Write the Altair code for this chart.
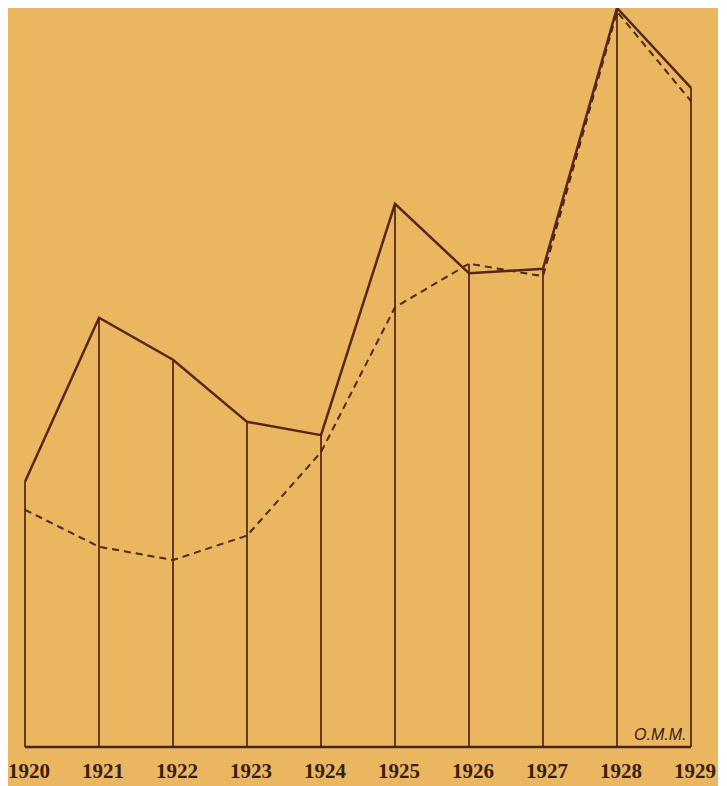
import altair as alt
import pandas as pd

years = [1920, 1921, 1922, 1923, 1924, 1925, 1926, 1927, 1928, 1929]
solid = [35.9, 58.1, 52.4, 44.0, 42.2, 73.5, 64.1, 64.7, 100.0, 89.2]
dashed = [32.1, 27.1, 25.3, 28.6, 39.9, 59.5, 65.4, 63.7, 99.5, 87.4]
signature = "O.M.M."

BG = "#EAB660"
INK = "#4e2412"

df = pd.DataFrame({"year": years, "solid": solid, "dashed": dashed})
df["top"] = df[["solid", "dashed"]].max(axis=1)
df["label"] = [str(y) for y in years]
df["zero"] = 0.0

xs = alt.X("year:Q", scale=alt.Scale(domain=[1920, 1929], nice=False, zero=False), axis=None)
ys = alt.Scale(domain=[0, 100], nice=False)

base = alt.Chart(df)

verticals = base.mark_rule(color=INK, strokeWidth=1.7).encode(
    x=xs, y=alt.Y("top:Q", scale=ys, axis=None), y2="zero:Q"
)

baseline = base.mark_line(color=INK, strokeWidth=2.4).encode(
    x=xs, y=alt.Y("zero:Q", scale=ys, axis=None)
)

solid_line = base.mark_line(color="#55261a", strokeWidth=2.5, strokeJoin="miter").encode(
    x=xs, y=alt.Y("solid:Q", scale=ys, axis=None)
)

dashed_line = base.mark_line(color=INK, strokeWidth=2.0, strokeDash=[7, 5]).encode(
    x=xs, y=alt.Y("dashed:Q", scale=ys, axis=None)
)

labels = base.mark_text(
    font="Liberation Serif", fontSize=21, fontWeight="bold", color="#3a1d10",
    baseline="middle", align="center", dy=25, dx=4
).encode(x=xs, y=alt.Y("zero:Q", scale=ys, axis=None), text="label:N")

sig_df = pd.DataFrame({"year": [1928.94], "v": [1.6], "t": [signature]})
sig = alt.Chart(sig_df).mark_text(
    font="Liberation Sans", fontSize=16, fontStyle="italic", color="#3a1d10",
    align="right", baseline="middle"
).encode(x=xs, y=alt.Y("v:Q", scale=ys, axis=None), text="t:N")

chart = alt.layer(verticals, baseline, dashed_line, solid_line, labels, sig).properties(
    width=666, height=739,
    autosize=alt.AutoSizeParams(type="none"),
    padding={"left": 17, "right": 27, "top": 0, "bottom": 39},
    background=BG,
).configure_view(stroke=None)

chart.save("out.html", embed_options={"renderer": "svg", "actions": False})
